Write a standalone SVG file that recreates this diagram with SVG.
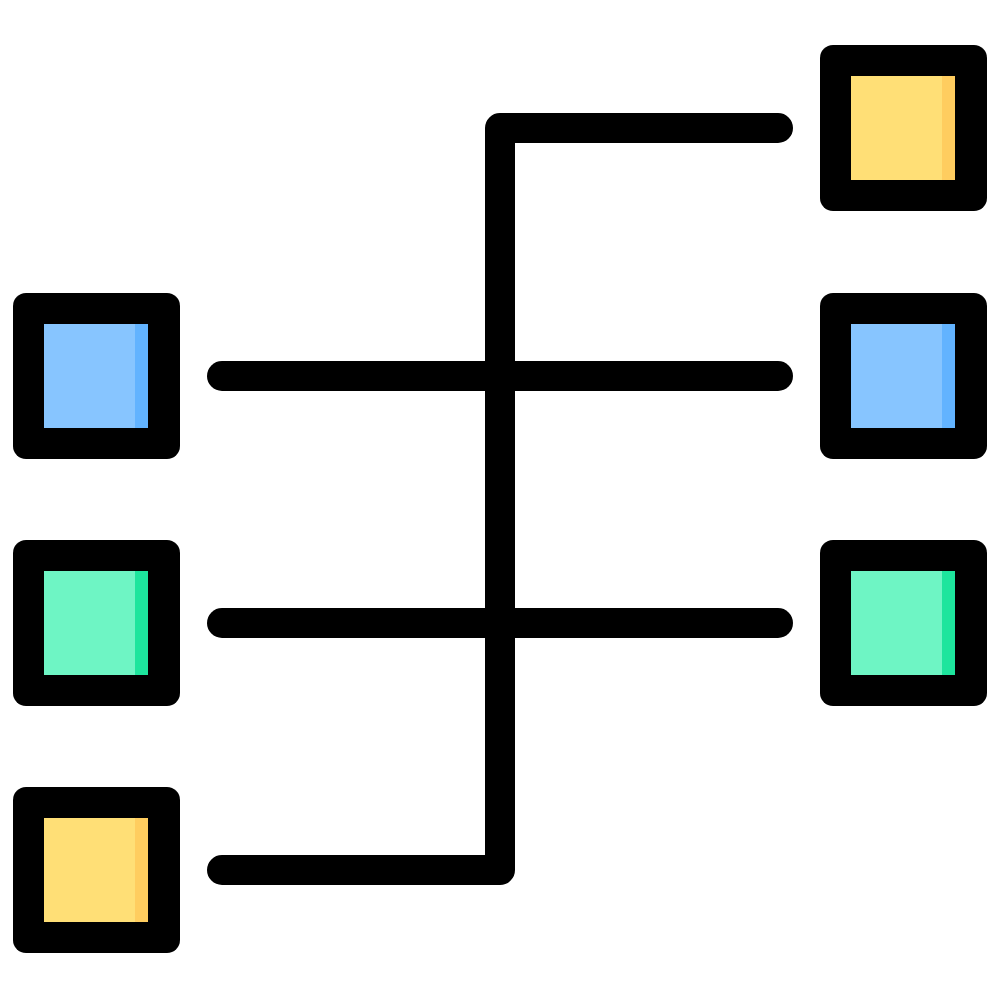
<svg xmlns="http://www.w3.org/2000/svg" width="1000" height="1000" viewBox="0 0 1000 1000">
  <style>
    .frame { fill: #000000; }
    .yellow { fill: #FFDF76; }
    .yellow-s { fill: #FFCD5F; }
    .blue { fill: #87C5FF; }
    .blue-s { fill: #62B3FF; }
    .green { fill: #6EF5C4; }
    .green-s { fill: #1DE59D; }
    .wire { fill: none; stroke: #000000; stroke-width: 30; stroke-linecap: round; stroke-linejoin: round; }
  </style>
  <defs>
    <rect id="outer" class="frame" x="0" y="0" width="167" height="166" rx="13"/>
  </defs>
  <rect width="1000" height="1000" fill="#ffffff"/>
  <g id="connectors">
    <path class="wire" d="M778,128 H500 V870 H222"/>
    <line class="wire" x1="222" y1="376" x2="778" y2="376"/>
    <line class="wire" x1="222" y1="623" x2="778" y2="623"/>
  </g>
  <g id="right-yellow" transform="translate(820,45)">
    <use href="#outer"/>
    <rect class="yellow" x="31" y="31" width="104" height="104"/>
    <rect class="yellow-s" x="122" y="31" width="13" height="104"/>
  </g>
  <g id="right-blue" transform="translate(820,293)">
    <use href="#outer"/>
    <rect class="blue" x="31" y="31" width="104" height="104"/>
    <rect class="blue-s" x="122" y="31" width="13" height="104"/>
  </g>
  <g id="right-green" transform="translate(820,540)">
    <use href="#outer"/>
    <rect class="green" x="31" y="31" width="104" height="104"/>
    <rect class="green-s" x="122" y="31" width="13" height="104"/>
  </g>
  <g id="left-blue" transform="translate(13,293)">
    <use href="#outer"/>
    <rect class="blue" x="31" y="31" width="104" height="104"/>
    <rect class="blue-s" x="122" y="31" width="13" height="104"/>
  </g>
  <g id="left-green" transform="translate(13,540)">
    <use href="#outer"/>
    <rect class="green" x="31" y="31" width="104" height="104"/>
    <rect class="green-s" x="122" y="31" width="13" height="104"/>
  </g>
  <g id="left-yellow" transform="translate(13,787)">
    <use href="#outer"/>
    <rect class="yellow" x="31" y="31" width="104" height="104"/>
    <rect class="yellow-s" x="122" y="31" width="13" height="104"/>
  </g>
</svg>
